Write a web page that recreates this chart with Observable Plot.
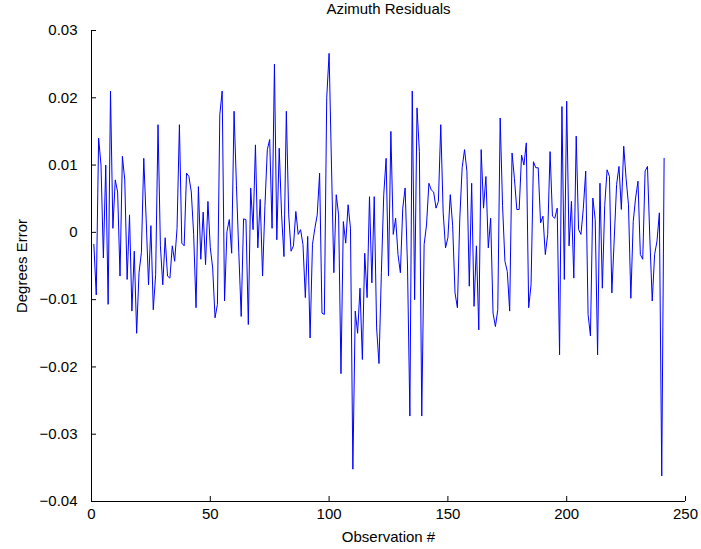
<!DOCTYPE html>
<html><head><meta charset="utf-8">
<script src="https://cdn.jsdelivr.net/npm/d3@7"></script>
<script src="https://cdn.jsdelivr.net/npm/@observablehq/plot@0.6"></script>
<style>body{margin:0;background:#fff} svg{display:block}</style>
</head><body><div id="chart"></div><script>
const titleText = "Azimuth Residuals";
const xLabel = "Observation #";
const yLabel = "Degrees Error";
const xTicks = [0, 50, 100, 150, 200, 250];
const yTicks = [-0.04, -0.03, -0.02, -0.01, 0, 0.01, 0.02, 0.03];
const residuals = [
 -0.0018, -0.0093, 0.014, 0.010, -0.0038, 0.010, -0.0107, 0.021, 0.0006, 0.0078,
 0.006, -0.0065, 0.0113, 0.0078, -0.007, 0.0026, -0.0117, -0.0028, -0.015, -0.006,
 -0.003, 0.011, 0.002, -0.0078, 0.001, -0.0115, -0.0063, 0.016, -0.002, -0.0078,
 -0.0008, -0.0065, -0.0068, -0.002, -0.0043, 0.0006, 0.016, -0.0016, -0.002, 0.0088,
 0.0083, 0.006, -0.0003, -0.0112, 0.0068, -0.004, 0.003, -0.0048, 0.0046, -0.0023,
 -0.0053, -0.0127, -0.0107, 0.0175, 0.021, -0.0102, 0.0001, 0.0019, -0.0031, 0.018,
 0.007, -0.003, -0.0125, 0.002, 0.0019, -0.0137, 0.0066, 0.0004, 0.013, -0.0023,
 0.0049, -0.0065, 0.004, 0.0123, 0.0138, 0.0006, 0.025, -0.0011, 0.0125, 0.0026,
 -0.0036, 0.018, 0.0026, -0.0028, -0.002, 0.0031, -0.0003, 0.0004, -0.0018, -0.0097,
 -0.0006, -0.0157, -0.0018, 0.0006, 0.0026, 0.0088, -0.012, -0.0122, 0.02, 0.0266,
 0.010, -0.006, 0.0056, 0.0026, -0.021, 0.0016, -0.0016, 0.0041, 0.0006, -0.0352,
 -0.0117, -0.015, -0.0083, -0.0189, -0.0031, -0.0097, 0.0053, -0.0075, 0.0053, -0.0142,
 -0.0195, -0.006, 0.0056, 0.011, -0.0065, 0.015, -0.0003, 0.0021, -0.0033, -0.006,
 0.0036, 0.0066, -0.005, -0.0273, 0.021, -0.01, 0.0185, 0.012, -0.0273, -0.0018,
 0.0011, 0.0073, 0.0063, 0.006, 0.0036, 0.0046, 0.016, 0.003, -0.0023, -0.0008,
 0.0056, 0.001, -0.009, -0.0112, 0.002, 0.0096, 0.0123, 0.0091, -0.008, 0.0073,
 -0.011, -0.002, -0.0145, 0.0123, 0.0036, 0.0083, -0.0023, 0.0021, -0.012, -0.014,
 -0.0115, 0.017, 0.004, -0.0043, -0.0058, -0.0117, 0.0118, 0.008, 0.0034, 0.0034,
 0.0115, 0.01, 0.0133, -0.0112, -0.0078, 0.0105, 0.0096, 0.0096, 0.0014, 0.0024,
 -0.0033, -0.0003, 0.012, 0.0024, 0.0021, 0.0036, -0.0182, 0.0187, -0.007, 0.0195,
 -0.002, 0.0046, -0.0068, 0.0143, 0.0004, -0.0003, 0.0036, 0.0091, -0.0122, -0.0154,
 0.0051, 0.0019, -0.0182, 0.0073, -0.0083, 0.004, 0.0093, 0.0083, -0.009, -0.001,
 0.0071, 0.0098, 0.0034, 0.0128, 0.008, 0.0041, -0.0098, 0.0016, 0.0051, 0.0076,
 -0.0033, -0.004, 0.0091, 0.0098, -0.001, -0.0102, -0.0033, -0.0013, 0.0029, -0.0362,
 0.011
];
const data = residuals.map((v, i) => ({obs: i + 1, err: v}));
const yFmt = d => d === 0 ? "0" : d3.format(".2f")(d);

const W = 701, H = 549, mT = 30, mB = 48, mL = 91, mR = 16, tick = 5;

const chart = Plot.plot({
  width: W, height: H,
  marginTop: mT, marginBottom: mB, marginLeft: mL, marginRight: mR,
  style: {fontFamily: "'Liberation Sans', Arial, Helvetica, sans-serif", fontSize: "14px", background: "#fff", color: "#000"},
  x: {domain: [0, 250]},
  y: {domain: [-0.04, 0.03]},
  marks: [
    Plot.ruleX([0], {stroke: "#000"}),
    Plot.ruleY([-0.04], {stroke: "#000"}),
    Plot.tickX(xTicks, {x: d => d, insetTop: H - mT - mB - tick, stroke: "#000"}),
    Plot.tickY(yTicks, {y: d => d, insetRight: W - mL - mR - tick, stroke: "#000"}),
    Plot.axisX(xTicks, {tickSize: 0, tickPadding: 7, tickFormat: d => String(d), label: null, fontSize: 15}),
    Plot.axisY(yTicks, {tickSize: 0, tickPadding: 14, tickFormat: yFmt, label: null, fontSize: 15}),
    Plot.line(data, {x: "obs", y: "err", stroke: "#0000ff", strokeWidth: 1}),
    Plot.text([titleText], {text: d => d, frameAnchor: "top", dy: -21, lineAnchor: "middle", fontSize: 15}),
    Plot.text([xLabel], {text: d => d, frameAnchor: "bottom", dy: 36, lineAnchor: "middle", fontSize: 15}),
    Plot.text([yLabel], {text: d => d, frameAnchor: "left", dx: -69, rotate: -90, textAnchor: "middle", lineAnchor: "middle", fontSize: 15})
  ]
});
document.getElementById("chart").appendChild(chart);
</script></body></html>
